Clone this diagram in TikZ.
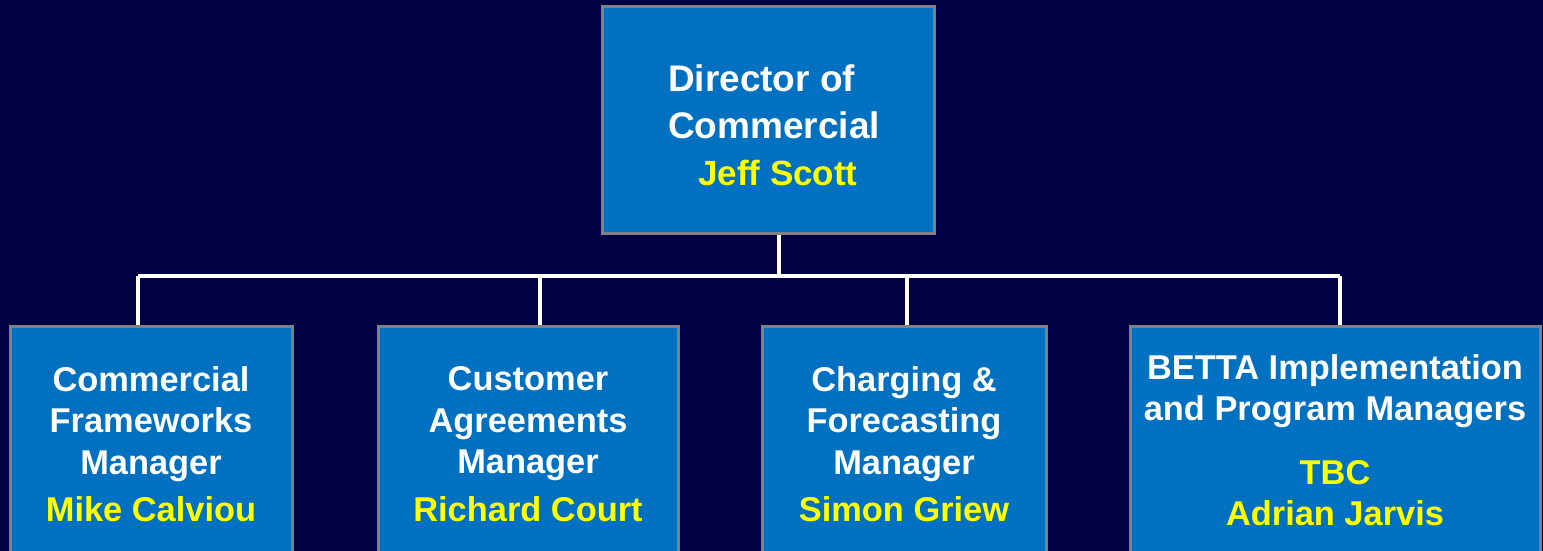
\documentclass[tikz,border=0pt]{standalone}
\usepackage{fontspec}
\setmainfont{Liberation Sans}
\usetikzlibrary{positioning}

\definecolor{navybg}{RGB}{0,0,66}
\definecolor{boxblue}{RGB}{0,112,192}
\definecolor{boxgray}{RGB}{128,128,128}
\definecolor{nameyellow}{RGB}{255,255,0}

\tikzset{
  post/.style={draw=boxgray, line width=1.5pt, fill=boxblue, text=white,
    inner sep=0pt, align=center,
    font=\bfseries\fontsize{17.2}{20.75}\selectfont},
  wire/.style={draw=white, line width=2pt},
}
\newcommand{\who}[1]{\textcolor{nameyellow}{#1}}

\begin{document}
\begin{tikzpicture}[x=0.5pt, y=-0.5pt]
        \useasboundingbox (0,0) rectangle (1543,551);
        \clip (0,0) rectangle (1543,551);
        \fill[navybg] (0,0) rectangle (1543,551);
        % director
        \node[post, align=left, minimum width=166pt, minimum height=113pt,
          font=\bfseries\fontsize{18.5}{23.5}\selectfont] (dir) at (768,120)
          {\rule{0pt}{18.5pt}\hspace*{6pt}Director of\\\hspace*{6pt}Commercial\\\hspace*{21pt}\who{\fontsize{17.5}{23.5}\selectfont Jeff Scott}};
        % managers
        \node[post, minimum width=141pt, minimum height=118pt] (cfm) at (151,444)
          {Commercial\\Frameworks\\Manager\\[3pt]\who{Mike Calviou}};
        \node[post, minimum width=150pt, minimum height=118pt] (cam) at (528,444)
          {Customer\\Agreements\\Manager\\[3pt]\who{Richard Court}};
        \node[post, minimum width=142pt, minimum height=118pt] (cfc) at (904,444)
          {Charging \&\\Forecasting\\Manager\\[3pt]\who{Simon Griew}};
        \node[post, minimum width=205pt, minimum height=114pt] (betta) at (1335,440)
          {BETTA Implementation\\and Program Managers\\[11pt]\who{TBC}\\\who{Adrian Jarvis}};
        % connectors
        \coordinate (hub) at (779,276);
        \coordinate (j1) at (138,276);
        \coordinate (j2) at (540,276);
        \coordinate (j3) at (907,276);
        \coordinate (j4) at (1340,276);
        \draw[wire] (hub |- dir.south) -- (hub);
        \draw[wire] (j1) -- (j4);
        \draw[wire] (j1) -- (j1 |- cfm.north);
        \draw[wire] (j2) -- (j2 |- cam.north);
        \draw[wire] (j3) -- (j3 |- cfc.north);
        \draw[wire] (j4) -- (j4 |- betta.north);
\end{tikzpicture}
\end{document}
